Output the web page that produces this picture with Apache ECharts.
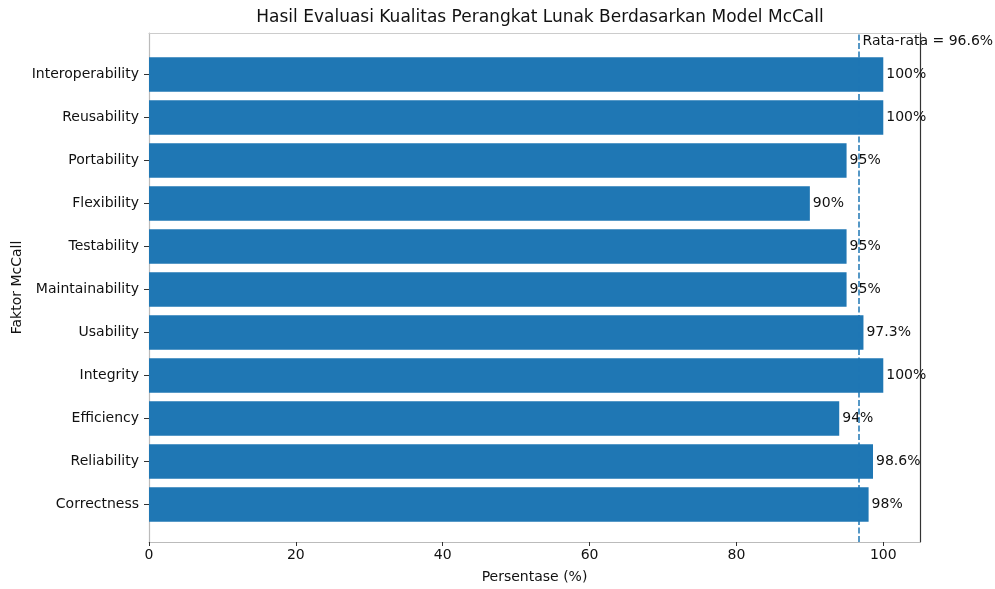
<!DOCTYPE html>
<html>
<head>
<meta charset="utf-8">
<script src="https://cdn.jsdelivr.net/npm/echarts@6/dist/echarts.min.js"></script>
<style>html,body{margin:0;padding:0;background:#fff}#c{width:995px;height:589px}</style>
</head>
<body>
<div id="c"></div>
<script>
const categories = ['Correctness','Reliability','Efficiency','Integrity','Usability','Maintainability','Testability','Flexibility','Portability','Reusability','Interoperability'];
const values = [98, 98.6, 94, 100, 97.3, 95, 95, 90, 95, 100, 100];
const xTicks = [0, 20, 40, 60, 80, 100];
const titleText = 'Hasil Evaluasi Kualitas Perangkat Lunak Berdasarkan Model McCall';
const xName = 'Persentase (%)';
const yName = 'Faktor McCall';

const avg = values.reduce((a, b) => a + b, 0) / values.length;
const avgText = 'Rata-rata = ' + avg.toFixed(1) + '%';
const font = 'DejaVu Sans';
const chart = echarts.init(document.getElementById('c'));
chart.setOption({
  animation: false,
  textStyle: { fontFamily: font },
  title: { text: titleText, left: 535, top: 4, textAlign: 'center',
    textStyle: { fontFamily: font, fontSize: 17, fontWeight: 'normal', color: '#111' } },
  grid: [
    { left: 149, right: 75, top: 53, bottom: 63 },
    { left: 149, right: 75, top: 33, bottom: 44 }
  ],
  xAxis: [
    { gridIndex: 0, type: 'value', min: 0, max: 105, show: false },
    { gridIndex: 1, type: 'value', min: 0, max: 105, position: 'bottom',
      axisLine: { show: true, onZero: false, lineStyle: { color: '#bbb', width: 1.2 } },
      axisTick: { show: true, length: 4, customValues: xTicks, lineStyle: { color: '#333' } },
      axisLabel: { customValues: xTicks, color: '#111', fontSize: 14, margin: 6 },
      splitLine: { show: false },
      name: xName, nameLocation: 'middle', nameGap: 28,
      nameTextStyle: { fontSize: 14, color: '#111' } },
    { gridIndex: 1, type: 'value', min: 0, max: 105, position: 'top',
      axisLine: { show: true, onZero: false, lineStyle: { color: '#ccc', width: 1.2 } },
      axisTick: { show: false }, axisLabel: { show: false }, splitLine: { show: false } }
  ],
  yAxis: [
    { gridIndex: 0, type: 'category', data: categories,
      axisLine: { show: false, onZero: false },
      axisTick: { show: true, length: 5, alignWithLabel: true, lineStyle: { color: '#333' } },
      axisLabel: { color: '#111', fontSize: 14, margin: 10 } },
    { gridIndex: 1, type: 'value', min: 0, max: 1, position: 'left',
      axisLine: { show: true, onZero: false, lineStyle: { color: '#bbb', width: 1.2 } },
      axisTick: { show: false }, axisLabel: { show: false }, splitLine: { show: false },
      name: yName, nameLocation: 'middle', nameGap: 125, nameRotate: 90,
      nameTextStyle: { fontSize: 14, color: '#111' } },
    { gridIndex: 1, type: 'value', min: 0, max: 1, position: 'right',
      axisLine: { show: true, onZero: false, lineStyle: { color: '#333', width: 1.2 } },
      axisTick: { show: false }, axisLabel: { show: false }, splitLine: { show: false } }
  ],
  series: [
    { type: 'bar', xAxisIndex: 0, yAxisIndex: 0, data: values, barWidth: '80%',
      itemStyle: { color: '#1f77b4' },
      label: { show: true, position: 'right', distance: 3, color: '#111', fontSize: 14,
        formatter: p => p.value + '%' } },
    { type: 'scatter', xAxisIndex: 1, yAxisIndex: 1, data: [], silent: true,
      markLine: { symbol: 'none', silent: true,
        lineStyle: { color: '#1f77b4', type: [6, 2.5], width: 1.5 },
        label: { show: true, position: 'end', formatter: avgText, align: 'left', verticalAlign: 'top',
          offset: [4, 6], color: '#111', fontSize: 14 },
        data: [{ xAxis: avg }] } }
  ]
});
</script>
</body>
</html>
